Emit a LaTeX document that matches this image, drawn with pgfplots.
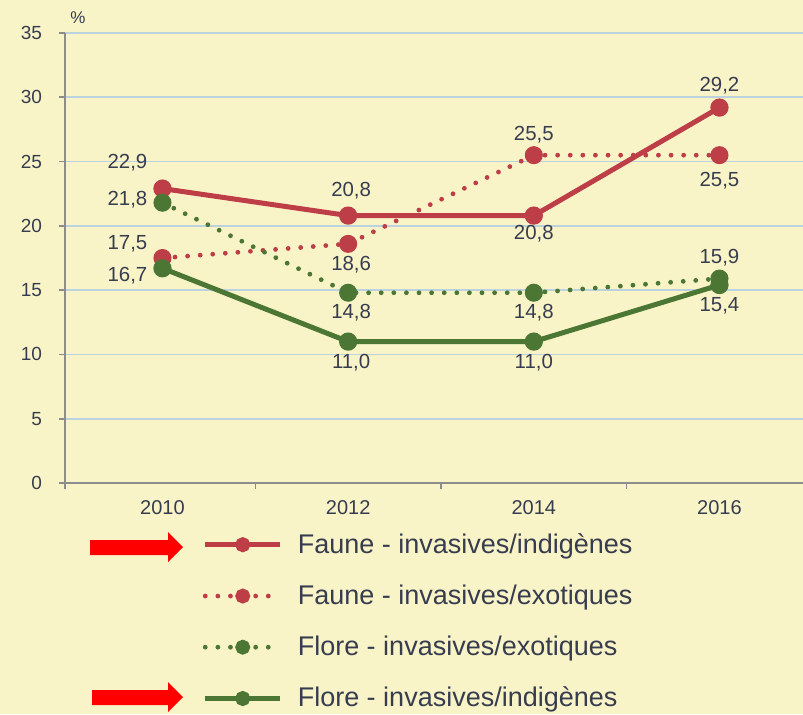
\documentclass[border=0pt]{standalone}
\usepackage{fontspec}
\setmainfont{Liberation Sans}
\usepackage{pgfplots}
\pgfplotsset{compat=1.18}

\definecolor{bg}{RGB}{249,244,200}
\definecolor{gridc}{RGB}{188,210,222}
\definecolor{axisgray}{RGB}{140,140,140}
\definecolor{txt}{RGB}{55,60,78}
\definecolor{faune}{RGB}{190,62,72}
\definecolor{flore}{RGB}{76,118,52}
\definecolor{arrowred}{RGB}{255,0,0}

% data label: x, y, text, xshift, yshift
\newcommand{\lab}[5]{\node[font=\fontsize{10.2}{12}\selectfont, text=txt, inner sep=0pt, xshift=#4, yshift=#5] at (axis cs:#1,#2) {#3};}

\begin{document}
\begin{tikzpicture}
\fill[bg] (0,0) rectangle (401.5pt,-357pt);
\begin{axis}[
    at={(32.5pt,-241.5pt)}, anchor=south west,
    scale only axis, width=369pt, height=225pt,
    xmin=2008.95, xmax=2016.9, ymin=0, ymax=35,
    axis x line=bottom, axis y line=left,
    axis line style={-, draw=axisgray, line width=0.8pt},
    xtick={2010,2012,2014,2016},
    minor xtick={2008.95,2011,2013,2015},
    ytick={0,5,...,35},
    tick align=outside,
    major tick length=3pt, minor tick length=3pt,
    major x tick style={draw=none},
    minor x tick style={draw=axisgray, line width=0.8pt},
    y tick style={draw=axisgray, line width=0.8pt},
    ymajorgrids, grid style={gridc, line width=0.9pt},
    /pgf/number format/assume math mode=true,
    /pgf/number format/1000 sep={},
    xticklabel style={font=\fontsize{10}{12}\selectfont, text=txt, yshift=-2pt},
    yticklabel style={font=\fontsize{9.5}{11}\selectfont, text=txt, xshift=-5pt},
    legend style={at={(axis description cs:0.178,-0.093)}, anchor=north west,
        draw=none, fill=none, font=\fontsize{13.5}{15}\selectfont, text=txt,
        row sep=10.3pt, column sep=5.5pt},
    legend cell align=left,
    legend image code/.code={\draw[mark repeat=2, mark phase=2, #1, mark size=2.5pt]
        plot coordinates {(0pt,0pt) (18.75pt,0pt) (37.5pt,0pt)};},
]
\addplot[faune, line width=2.5pt, mark=*, mark size=3.3pt] coordinates {
    (2010,22.9) (2012,20.8) (2014,20.8) (2016,29.2)};
\addlegendentry{Faune - invasives/indigènes}
\addplot[faune, line width=2.4pt, line cap=round, dash pattern=on 0pt off 6.3pt,
    mark=*, mark size=3.3pt, mark options={solid}] coordinates {
    (2010,17.5) (2012,18.6) (2014,25.5) (2016,25.5)};
\addlegendentry{Faune - invasives/exotiques}
\addplot[flore, line width=2.4pt, line cap=round, dash pattern=on 0pt off 6.3pt,
    mark=*, mark size=3.3pt, mark options={solid}] coordinates {
    (2010,21.8) (2012,14.8) (2014,14.8) (2016,15.9)};
\addlegendentry{Flore - invasives/exotiques}
\addplot[flore, line width=2.5pt, mark=*, mark size=3.3pt] coordinates {
    (2010,16.7) (2012,11.0) (2014,11.0) (2016,15.4)};
\addlegendentry{Flore - invasives/indigènes}

\lab{2010}{22.9}{22,9}{-17.5pt}{12.8pt}
\lab{2010}{21.8}{21,8}{-17.5pt}{1.3pt}
\lab{2010}{17.5}{17,5}{-17.5pt}{7pt}
\lab{2010}{16.7}{16,7}{-17.5pt}{-3.8pt}
\lab{2012}{20.8}{20,8}{1.5pt}{12.5pt}
\lab{2012}{18.6}{18,6}{1.5pt}{-10.5pt}
\lab{2012}{14.8}{14,8}{1.5pt}{-10pt}
\lab{2012}{11.0}{11,0}{1.5pt}{-10.3pt}
\lab{2014}{25.5}{25,5}{0pt}{10.3pt}
\lab{2014}{20.8}{20,8}{0pt}{-9pt}
\lab{2014}{14.8}{14,8}{0pt}{-10pt}
\lab{2014}{11.0}{11,0}{0pt}{-10.3pt}
\lab{2016}{29.2}{29,2}{0pt}{11pt}
\lab{2016}{25.5}{25,5}{0pt}{-13pt}
\lab{2016}{15.9}{15,9}{0pt}{10.5pt}
\lab{2016}{15.4}{15,4}{0pt}{-10.5pt}
\end{axis}
\node[font=\fontsize{8.5}{10}\selectfont, text=txt] at (39pt,-9pt) {\%};
\fill[arrowred] (45pt,-270pt) -- (84pt,-270pt) -- (84pt,-266pt) -- (91.5pt,-273.5pt)
    -- (84pt,-281pt) -- (84pt,-277.5pt) -- (45pt,-277.5pt) -- cycle;
\fill[arrowred] (46pt,-345pt) -- (84pt,-345pt) -- (84pt,-341pt) -- (91.5pt,-348.5pt)
    -- (84pt,-356pt) -- (84pt,-352.5pt) -- (46pt,-352.5pt) -- cycle;
\pgfresetboundingbox
\useasboundingbox (0,0) rectangle (401.5pt,-357pt);
\end{tikzpicture}
\end{document}
